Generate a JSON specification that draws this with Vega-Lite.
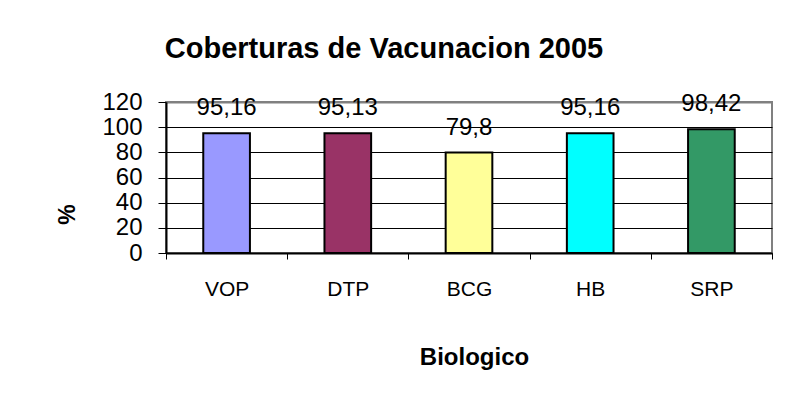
{
  "$schema": "https://vega.github.io/schema/vega-lite/v6.json",
  "width": 606,
  "height": 151,
  "autosize": "none",
  "padding": {"left": 166, "top": 102, "right": 24, "bottom": 149},
  "background": "white",
  "config": {
    "font": "Liberation Sans",
    "view": {"stroke": "#808080", "strokeWidth": 2},
    "locale": {"number": {"decimal": ",", "thousands": ".", "grouping": [3], "currency": ["", ""]}}
  },
  "title": {
    "text": "Coberturas de Vacunacion 2005",
    "font": "Liberation Sans",
    "fontSize": 29,
    "fontWeight": "bold",
    "color": "black",
    "anchor": "middle",
    "dx": -85,
    "dy": 38,
    "baseline": "alphabetic",
    "offset": 41
  },
  "data": {
    "values": [
      {"biologico": "VOP", "pct": 95.16},
      {"biologico": "DTP", "pct": 95.13},
      {"biologico": "BCG", "pct": 79.8},
      {"biologico": "HB", "pct": 95.16},
      {"biologico": "SRP", "pct": 98.42}
    ]
  },
  "encoding": {
    "x": {
      "field": "biologico",
      "type": "nominal",
      "sort": null,
      "scale": {"paddingInner": 0, "paddingOuter": 0},
      "axis": {
        "title": "Biologico",
        "titleFont": "Liberation Sans",
        "titleFontSize": 24,
        "titleFontWeight": "bold",
        "titleColor": "black",
        "titleX": 308,
        "titleY": 104,
        "titleAlign": "center",
        "titleBaseline": "middle",
        "labelAngle": 0,
        "labelFontSize": 21,
        "labelColor": "black",
        "labelBaseline": "middle",
        "labelPadding": 30,
        "tickBand": "extent",
        "tickSize": 6,
        "tickColor": "black",
        "tickWidth": 1,
        "domainColor": "black",
        "domainWidth": 2,
        "grid": false
      }
    },
    "y": {
      "field": "pct",
      "type": "quantitative",
      "scale": {"domain": [0, 120], "nice": false},
      "axis": {
        "values": [0, 20, 40, 60, 80, 100, 120],
        "title": "%",
        "titleFont": "Liberation Sans",
        "titleFontSize": 23,
        "titleFontWeight": "bold",
        "titleColor": "black",
        "titleAngle": -90,
        "titleX": -99,
        "titleY": 112,
        "titleAlign": "center",
        "titleBaseline": "middle",
        "labelFontSize": 24,
        "labelColor": "black",
        "labelPadding": 16,
        "tickSize": 8,
        "tickColor": "black",
        "tickWidth": 1,
        "domainColor": "black",
        "domainWidth": 2,
        "grid": true,
        "gridColor": {"condition": {"test": "datum.value == 120", "value": "#808080"}, "value": "black"},
        "gridWidth": {"condition": {"test": "datum.value == 120", "value": 2}, "value": 1},
        "gridOpacity": 1
      }
    }
  },
  "layer": [
    {
      "mark": {"type": "bar", "width": {"band": 0.385}, "stroke": "black", "strokeWidth": 2},
      "encoding": {
        "color": {
          "field": "biologico",
          "type": "nominal",
          "scale": {
            "domain": ["VOP", "DTP", "BCG", "HB", "SRP"],
            "range": ["#9999FF", "#993366", "#FFFF99", "#00FFFF", "#339966"]
          },
          "legend": null
        }
      }
    },
    {
      "mark": {"type": "text", "baseline": "alphabetic", "dy": -18, "fontSize": 24, "color": "black", "font": "Liberation Sans"},
      "encoding": {
        "text": {"field": "pct", "type": "quantitative", "format": ".2~f"}
      }
    }
  ]
}
